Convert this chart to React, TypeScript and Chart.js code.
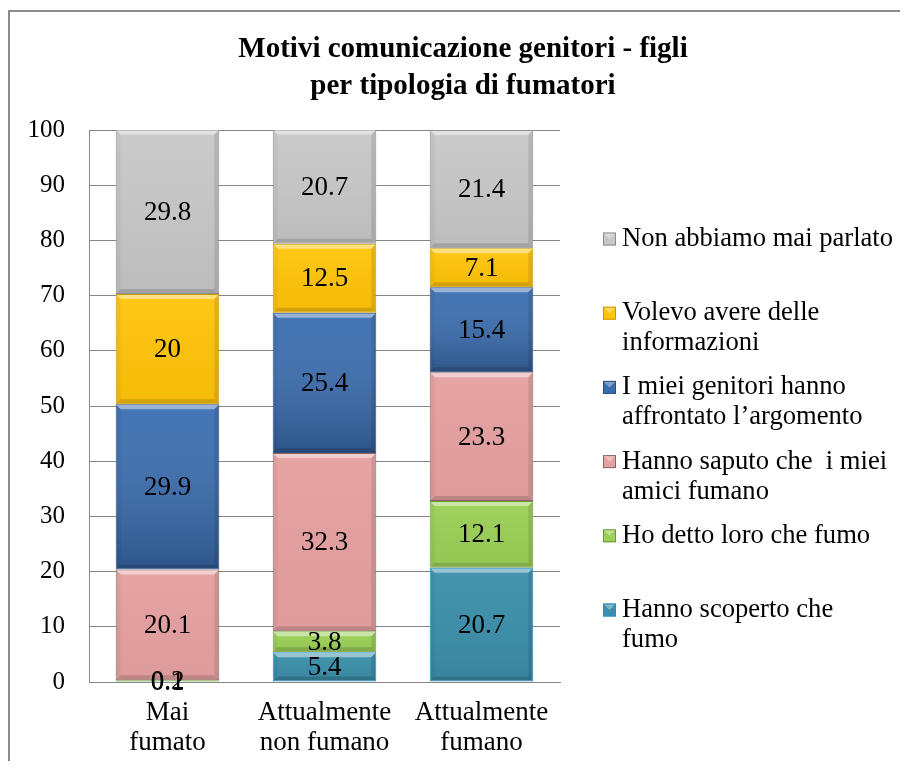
import React, { useEffect, useRef } from "react";
import { Chart, registerables } from "chart.js";
Chart.register(...registerables);

const categories = [["Mai", "fumato"], ["Attualmente", "non fumano"], ["Attualmente", "fumano"]];
const titleLines = ["Motivi comunicazione genitori - figli", "per tipologia di fumatori"];

const seriesLabels = [
  "Hanno scoperto che fumo",
  "Ho detto loro che fumo",
  "Hanno saputo che  i miei amici fumano",
  "I miei genitori hanno affrontato l\u2019argomento",
  "Volevo avere delle informazioni",
  "Non abbiamo mai parlato",
];
const legendLines = [
  ["Hanno scoperto che", "fumo"],
  ["Ho detto loro che fumo"],
  ["Hanno saputo che  i miei", "amici fumano"],
  ["I miei genitori hanno", "affrontato l\u2019argomento"],
  ["Volevo avere delle", "informazioni"],
  ["Non abbiamo mai parlato"],
];

const scoperto = [0.1, 5.4, 20.7];
const dettoLoro = [0.2, 3.8, 12.1];
const amiciFumano = [20.1, 32.3, 23.3];
const genitoriArgomento = [29.9, 25.4, 15.4];
const informazioni = [20, 12.5, 7.1];
const maiParlato = [29.8, 20.7, 21.4];
const seriesValues = [scoperto, dettoLoro, amiciFumano, genitoriArgomento, informazioni, maiParlato];

const seriesColors = ["#3B8FAA", "#9BCF57", "#E5A0A0", "#3A6DB0", "#FFC40A", "#C8C8C8"];
const seriesBorders = ["#1E8FCF", "#6E9A38", "#8A6464", "#2A4F80", "#C79A00", "#8E8E8E"];
const seriesShade = [0.08, 0.04, 0.03, 0.22, 0.04, 0.06];

const yMin = 0;
const yMax = 100;
const yStep = 10;

const SERIF = "'Liberation Serif', 'Times New Roman', serif";
const W = 892;
const H = 753;

const framePlugin = {
  id: "frame",
  beforeDraw(chart: any) {
    const ctx = chart.ctx;
    ctx.save();
    ctx.fillStyle = "#ffffff";
    ctx.fillRect(0, 0, chart.width, chart.height);
    ctx.fillStyle = "#8C8C8C";
    ctx.fillRect(0, 2, 2, chart.height);
    ctx.fillRect(0, 2, chart.width, 2);
    ctx.restore();
  },
};

const bevelPlugin = {
  id: "bevel",
  afterDatasetsDraw(chart: any) {
    const ctx = chart.ctx;
    ctx.save();
    chart.data.datasets.forEach((ds: any, di: number) => {
      const meta = chart.getDatasetMeta(di);
      meta.data.forEach((el: any) => {
        const l = el.x - el.width / 2 + 1;
        const r = el.x + el.width / 2 - 1;
        const t = Math.min(el.y, el.base) + 1;
        const b = Math.max(el.y, el.base) - 1;
        const h = b - t;
        if (h < 1) return;
        const bv = Math.min(4, h / 2, el.width / 2);
        const g = ctx.createLinearGradient(0, t, 0, b);
        g.addColorStop(0, "rgba(255,255,255,0.05)");
        g.addColorStop(1, `rgba(0,0,0,${seriesShade[di]})`);
        ctx.fillStyle = g;
        ctx.fillRect(l, t, r - l, h);
        const poly = (pts: number[][], color: string) => {
          ctx.beginPath();
          ctx.moveTo(pts[0][0], pts[0][1]);
          for (let i = 1; i < pts.length; i++) ctx.lineTo(pts[i][0], pts[i][1]);
          ctx.closePath();
          ctx.fillStyle = color;
          ctx.fill();
        };
        poly([[l, t], [r, t], [r - bv, t + bv], [l + bv, t + bv]], "rgba(255,255,255,0.45)");
        poly([[l, b], [r, b], [r - bv, b - bv], [l + bv, b - bv]], "rgba(0,0,0,0.14)");
        poly([[l, t], [l + bv, t + bv], [l + bv, b - bv], [l, b]], "rgba(0,0,0,0.04)");
        poly([[r, t], [r - bv, t + bv], [r - bv, b - bv], [r, b]], "rgba(0,0,0,0.10)");
      });
    });
    ctx.restore();
  },
};

const valueLabelPlugin = {
  id: "valueLabels",
  afterDatasetsDraw(chart: any) {
    const ctx = chart.ctx;
    ctx.save();
    ctx.font = `27px ${SERIF}`;
    ctx.fillStyle = "#000000";
    ctx.textAlign = "center";
    ctx.textBaseline = "middle";
    chart.data.datasets.forEach((ds: any, di: number) => {
      const meta = chart.getDatasetMeta(di);
      meta.data.forEach((el: any, i: number) => {
        const v = ds.data[i];
        if (v == null) return;
        ctx.fillText(String(v), el.x, (el.y + el.base) / 2 + 1);
      });
    });
    ctx.restore();
  },
};

const titleLegendPlugin = {
  id: "titleLegend",
  afterDraw(chart: any) {
    const ctx = chart.ctx;
    ctx.save();
    ctx.fillStyle = "#000000";
    ctx.textAlign = "center";
    ctx.textBaseline = "middle";
    ctx.font = `bold 29px ${SERIF}`;
    ctx.fillText(titleLines[0], 455, 42);
    ctx.fillText(titleLines[1], 455, 79);

    ctx.textAlign = "left";
    ctx.font = `26.6px ${SERIF}`;
    const n = chart.data.datasets.length;
    for (let k = 0; k < n; k++) {
      const di = n - 1 - k;
      const ds = chart.data.datasets[di];
      const cy = 231 + k * 74.2;
      const sx = 595;
      const s = 13;
      ctx.fillStyle = ds.backgroundColor;
      ctx.fillRect(sx, cy - s / 2, s, s);
      ctx.fillStyle = "rgba(255,255,255,0.35)";
      ctx.beginPath();
      ctx.moveTo(sx, cy - s / 2);
      ctx.lineTo(sx + s, cy - s / 2);
      ctx.lineTo(sx + s / 2, cy);
      ctx.closePath();
      ctx.fill();
      ctx.strokeStyle = ds.borderColor;
      ctx.lineWidth = 1;
      ctx.strokeRect(sx + 0.5, cy - s / 2 + 0.5, s - 1, s - 1);
      ctx.fillStyle = "#000000";
      legendLines[di].forEach((line, li) => {
        ctx.fillText(line, 614, cy + li * 30);
      });
    }
    ctx.restore();
  },
};

export default function App() {
  const ref = useRef<HTMLCanvasElement | null>(null);
  useEffect(() => {
    if (!ref.current) return;
    const chart = new Chart(ref.current, {
      type: "bar",
      data: {
        labels: categories as any,
        datasets: seriesValues.map((vals, i) => ({
          label: seriesLabels[i],
          data: vals,
          backgroundColor: seriesColors[i],
          borderColor: seriesBorders[i],
          borderWidth: 1,
          borderSkipped: false,
          barPercentage: 0.66,
          categoryPercentage: 1,
        })),
      },
      options: {
        responsive: false,
        animation: false,
        layout: { padding: { left: 0, top: 122, right: W - 552, bottom: 0 } },
        plugins: {
          legend: { display: false },
          title: { display: false },
          tooltip: { enabled: false },
        },
        scales: {
          x: {
            stacked: true,
            grid: { display: false, drawTicks: false },
            border: { display: true, color: "#868686", width: 1 },
            ticks: {
              color: "#000000",
              padding: 16,
              font: { family: SERIF, size: 27, lineHeight: "30px" } as any,
              maxRotation: 0,
              autoSkip: false,
            },
            afterFit: (scale: any) => {
              scale.height = H - 674;
            },
          },
          y: {
            stacked: true,
            min: yMin,
            max: yMax,
            grid: { color: "#868686", drawTicks: false },
            border: { display: true, color: "#868686", width: 1 },
            ticks: {
              stepSize: yStep,
              color: "#000000",
              padding: 24,
              font: { family: SERIF, size: 25 },
            },
            afterFit: (scale: any) => {
              scale.width = 81;
            },
          },
        },
      },
      plugins: [framePlugin, bevelPlugin, valueLabelPlugin, titleLegendPlugin],
    } as any);
    return () => chart.destroy();
  }, []);
  return (
    <div style={{ width: W, height: H }}>
      <canvas ref={ref} width={W} height={H} style={{ display: "block", width: W, height: H }} />
    </div>
  );
}
